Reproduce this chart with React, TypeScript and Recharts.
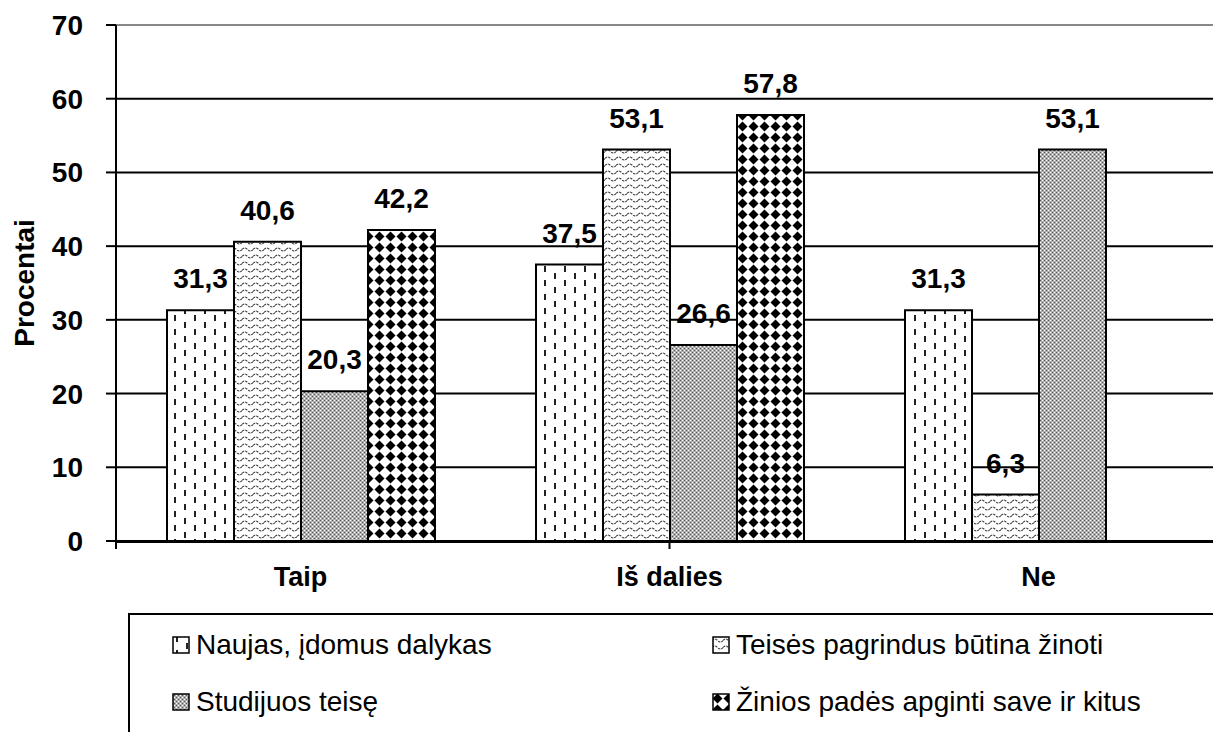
import { BarChart, Bar, XAxis, YAxis, CartesianGrid, LabelList, ReferenceLine, Label } from 'recharts';

const categories = ['Taip', 'Iš dalies', 'Ne'];
const seriesNames = [
  'Naujas, įdomus dalykas',
  'Teisės pagrindus būtina žinoti',
  'Studijuos teisę',
  'Žinios padės apginti save ir kitus',
];
const naujas = [31.3, 37.5, 31.3];
const teises = [40.6, 53.1, 6.3];
const studijuos = [20.3, 26.6, 53.1];
const zinios = [42.2, 57.8, null];
const yTicks = [0, 10, 20, 30, 40, 50, 60, 70];
const boundaryTicks = [0, 1, 2, 3];

const patternIds = ['patNaujas', 'patTeises', 'patStudijuos', 'patZinios'];
const seriesKeys = ['s0', 's1', 's2', 's3'];

const data = categories.map((name, i) => ({
  name,
  s0: naujas[i],
  s1: teises[i],
  s2: studijuos[i],
  s3: zinios[i],
}));

const FONT = '"Liberation Sans", Arial, sans-serif';

const fmt = (v: any) => (v == null ? '' : String(v).replace('.', ','));

function Patterns() {
  return (
    <svg width={0} height={0} style={{ position: 'absolute' }}>
      <defs>
        <pattern id="patNaujas" width={20} height={14} patternUnits="userSpaceOnUse">
          <rect width={20} height={14} fill="#fff" />
          <rect x={4} y={0} width={2} height={6} fill="#222" />
          <rect x={14} y={7} width={2} height={6} fill="#222" />
        </pattern>
        <pattern id="patTeises" width={11} height={7} patternUnits="userSpaceOnUse">
          <rect width={11} height={7} fill="#fff" />
          <path d="M0,4.5 Q2.75,1.5 5.5,4.5 T11,4.5" stroke="#333" strokeWidth={1.1} strokeDasharray="2.5 1" fill="none" />
        </pattern>
        <pattern id="patStudijuos" width={4} height={4} patternUnits="userSpaceOnUse">
          <rect width={4} height={4} fill="#b0b0b0" />
          <rect x={0} y={0} width={1} height={1} fill="#555" />
          <rect x={2} y={2} width={1} height={1} fill="#555" />
          <rect x={2} y={0} width={1} height={1} fill="#fff" />
          <rect x={0} y={2} width={1} height={1} fill="#fff" />
        </pattern>
        <pattern id="patZinios" width={11} height={11} patternUnits="userSpaceOnUse">
          <rect width={11} height={11} fill="#fff" />
          <path d="M5.5,0.5 L10.5,5.5 L5.5,10.5 L0.5,5.5 Z" fill="#000" />
        </pattern>
      </defs>
    </svg>
  );
}

export default function App() {
  return (
    <div style={{ position: 'absolute', left: 0, top: 0, width: 1213, height: 732, overflow: 'hidden', background: '#fff' }}>
      <Patterns />
      <BarChart
        width={1240}
        height={732}
        data={data}
        margin={{ top: 25, right: 17, bottom: 150, left: 0 }}
        barGap={0}
      >
        <CartesianGrid xAxisId="cat" vertical={false} stroke="#000" strokeWidth={2} />
        <XAxis
          xAxisId="b"
          type="number"
          domain={[0, 3]}
          ticks={boundaryTicks}
          interval={0}
          height={1}
          axisLine={false}
          tick={() => <g />}
          tickSize={8}
          tickLine={{ stroke: '#000', strokeWidth: 2 }}
        />
        <XAxis
          xAxisId="cat"
          dataKey="name"
          height={40}
          axisLine={{ stroke: '#000', strokeWidth: 2 }}
          tickLine={false}
          tickSize={0}
          tickMargin={25}
          tick={{ fill: '#000', fontSize: 27, fontWeight: 'bold', fontFamily: FONT }}
        />
        <YAxis
          width={116}
          domain={[0, 70]}
          ticks={yTicks}
          interval={0}
          axisLine={{ stroke: '#000', strokeWidth: 2 }}
          tickLine={{ stroke: '#000', strokeWidth: 2 }}
          tickSize={10}
          tickMargin={23}
          tick={{ fill: '#000', fontSize: 28, fontWeight: 'bold', fontFamily: FONT }}
        >
          <Label
            content={({ viewBox }: any) => {
              const cy = viewBox.y + viewBox.height / 2;
              return (
                <text
                  x={24}
                  y={cy}
                  transform={`rotate(-90, 24, ${cy})`}
                  textAnchor="middle"
                  dominantBaseline="central"
                  fontSize={28}
                  fontWeight="bold"
                  fontFamily={FONT}
                  fill="#000"
                >
                  Procentai
                </text>
              );
            }}
          />
        </YAxis>
        <ReferenceLine xAxisId="cat" y={70} stroke="#888" strokeWidth={2} />
        {seriesKeys.map((k, i) => (
          <Bar
            key={k}
            xAxisId="cat"
            dataKey={k}
            name={seriesNames[i]}
            fill={`url(#${patternIds[i]})`}
            stroke="#000"
            strokeWidth={2}
            barSize={67}
            isAnimationActive={false}
          >
            <LabelList
              dataKey={k}
              position="top"
              offset={22}
              formatter={fmt}
              style={{ fill: '#000', fontSize: 28, fontWeight: 'bold', fontFamily: FONT }}
            />
          </Bar>
        ))}
      </BarChart>
      <div
        style={{
          position: 'absolute',
          left: 128,
          top: 613,
          width: 1120,
          height: 160,
          border: '2px solid #000',
          boxSizing: 'border-box',
          fontFamily: FONT,
          fontSize: 28,
          color: '#000',
        }}
      >
        {seriesNames.map((n, i) => (
          <div
            key={n}
            style={{
              position: 'absolute',
              left: i % 2 ? 582 : 42,
              top: i < 2 ? 30 : 87,
              transform: 'translateY(-50%)',
              display: 'flex',
              alignItems: 'center',
              gap: 6,
              whiteSpace: 'nowrap',
            }}
          >
            <svg width={18} height={18}>
              <rect x={1} y={1} width={16} height={16} fill={`url(#${patternIds[i]})`} stroke="#000" strokeWidth={1.5} />
            </svg>
            <span>{n}</span>
          </div>
        ))}
      </div>
    </div>
  );
}
